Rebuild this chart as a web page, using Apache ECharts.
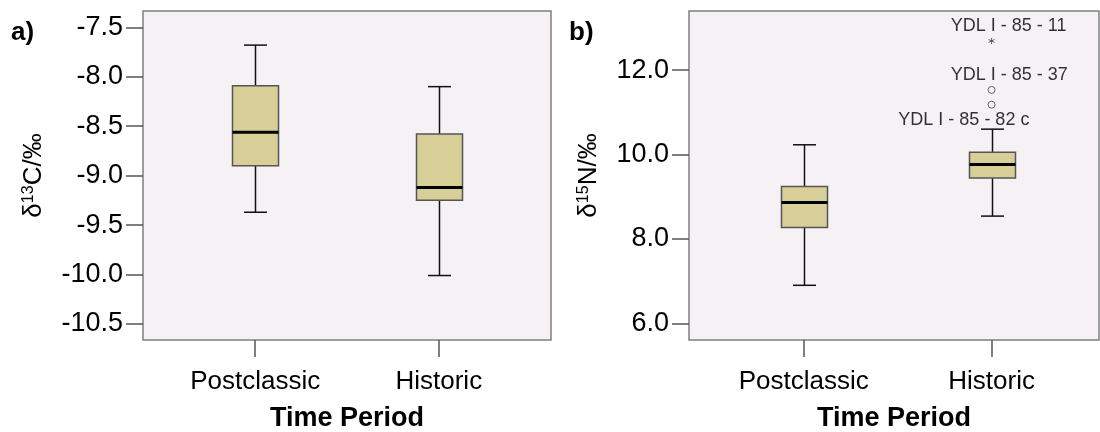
<!DOCTYPE html>
<html><head><meta charset="utf-8">
<script src="https://cdn.jsdelivr.net/npm/echarts@6/dist/echarts.min.js"></script>
<style>html,body{margin:0;padding:0;background:#fff}#c{width:1100px;height:432px}</style>
</head><body><div id="c"></div>
<script>
// ---- data ----
const categories = ['Postclassic', 'Historic'];
// box statistics: [lower whisker, Q1, median, Q3, upper whisker]
const carbonPostclassic = [-9.37, -8.90, -8.56, -8.09, -7.68];
const carbonHistoric = [-10.01, -9.25, -9.12, -8.58, -8.10];
const nitrogenPostclassic = [6.90, 8.27, 8.86, 9.24, 10.23];
const nitrogenHistoric = [8.54, 9.44, 9.76, 10.05, 10.60];
// outliers in panel b (all in the Historic group)
const outlierCategory = [1, 1, 1];
const outlierValues = [12.69, 11.53, 11.18];
const outlierLabels = ['YDL I - 85 - 11', 'YDL I - 85 - 37', 'YDL I - 85 - 82 c'];
const outlierKinds = ['extreme', 'outlier', 'outlier'];
// tick labels
const carbonTicks = [-10.5, -10.0, -9.5, -9.0, -8.5, -8.0, -7.5];
const nitrogenTicks = [6.0, 8.0, 10.0, 12.0];

// ---- styling ----
const FONT = 'Liberation Sans, Arial, sans-serif';
const labelOffsets = [[17, -15], [17.6, -15], [-27.7, 15.5]];
const asteriskPath = 'path://M0,-5L0,5M-4.33,-2.5L4.33,2.5M-4.33,2.5L4.33,-2.5';

function boxRender(params, api) {
  const x = api.value(0);
  const lo = api.coord([x, api.value(1)]);
  const q1 = api.coord([x, api.value(2)]);
  const med = api.coord([x, api.value(3)]);
  const q3 = api.coord([x, api.value(4)]);
  const hi = api.coord([x, api.value(5)]);
  const cx = Math.round(lo[0]) + 0.5;
  const bw = 46, cw = 23;
  const ws = { stroke: '#111', lineWidth: 1.5 };
  return {
    type: 'group',
    children: [
      { type: 'line', shape: { x1: cx, y1: hi[1], x2: cx, y2: q3[1] }, style: ws },
      { type: 'line', shape: { x1: cx, y1: q1[1], x2: cx, y2: lo[1] }, style: ws },
      { type: 'line', shape: { x1: cx - cw / 2, y1: hi[1], x2: cx + cw / 2, y2: hi[1] }, style: ws },
      { type: 'line', shape: { x1: cx - cw / 2, y1: lo[1], x2: cx + cw / 2, y2: lo[1] }, style: ws },
      { type: 'rect', shape: { x: cx - bw / 2, y: q3[1], width: bw, height: q1[1] - q3[1] },
        style: { fill: '#d7cf97', stroke: '#555', lineWidth: 1.5 } },
      { type: 'line', shape: { x1: cx - bw / 2, y1: med[1], x2: cx + bw / 2, y2: med[1] },
        style: { stroke: '#000', lineWidth: 3 } }
    ]
  };
}

function xAxisFor(gi, max) {
  return {
    gridIndex: gi, type: 'value', min: -0.611, max: max,
    name: 'Time Period', nameLocation: 'middle', nameGap: 65,
    nameTextStyle: { fontFamily: FONT, fontSize: 27, fontWeight: 'bold', color: '#000' },
    axisLine: { show: false, onZero: false },
    axisTick: { show: true, length: 17, customValues: [0, 1], lineStyle: { color: '#555', width: 1.5 } },
    axisLabel: { customValues: [0, 1], margin: 29, fontFamily: FONT, fontSize: 26, color: '#000',
      formatter: v => categories[Math.round(v)] },
    splitLine: { show: false }
  };
}
function yAxisFor(gi, min, max, ticks, nameRich, gap) {
  return {
    gridIndex: gi, type: 'value', min: min, max: max,
    name: nameRich, nameLocation: 'middle', nameRotate: 90, nameGap: gap,
    nameTextStyle: { fontFamily: FONT, fontSize: 26, color: '#000',
      rich: { b: { fontFamily: FONT, fontSize: 26, color: '#000' },
              s: { fontFamily: FONT, fontSize: 16, color: '#000', verticalAlign: 'top', lineHeight: 26 } } },
    axisLine: { show: false, onZero: false },
    axisTick: { show: true, length: 17, customValues: ticks, lineStyle: { color: '#555', width: 1.5 } },
    axisLabel: { customValues: ticks, margin: 20, fontFamily: FONT, fontSize: 27, color: '#000',
      formatter: v => Number(v).toFixed(1) },
    splitLine: { show: false }
  };
}

const gridStyle = { show: true, backgroundColor: '#f5f1f5', borderColor: '#808080', borderWidth: 1.5,
  containLabel: false, outerBoundsMode: 'none' };

const option = {
  animation: false,
  backgroundColor: '#fff',
  title: [
    { text: 'a)', left: 6, top: 15, textStyle: { fontFamily: FONT, fontSize: 26, fontWeight: 'bold', color: '#000' } },
    { text: 'b)', left: 564, top: 15, textStyle: { fontFamily: FONT, fontSize: 26, fontWeight: 'bold', color: '#000' } }
  ],
  grid: [
    Object.assign({ left: 143, top: 11, width: 408, height: 329 }, gridStyle),
    Object.assign({ left: 689, top: 11, width: 410, height: 329 }, gridStyle)
  ],
  xAxis: [xAxisFor(0, 1.611), xAxisFor(1, 1.572)],
  yAxis: [
    yAxisFor(0, -10.662, -7.335, carbonTicks, '{b|δ}{s|13}{b|C/‰}', 96),
    yAxisFor(1, 5.604, 13.40, nitrogenTicks, '{b|δ}{s|15}{b|N/‰}', 87)
  ],
  series: [
    { type: 'custom', xAxisIndex: 0, yAxisIndex: 0, renderItem: boxRender,
      encode: { x: 0, y: [1, 2, 3, 4, 5] },
      data: [[0].concat(carbonPostclassic), [1].concat(carbonHistoric)] },
    { type: 'custom', xAxisIndex: 1, yAxisIndex: 1, renderItem: boxRender,
      encode: { x: 0, y: [1, 2, 3, 4, 5] },
      data: [[0].concat(nitrogenPostclassic), [1].concat(nitrogenHistoric)] },
    { type: 'scatter', xAxisIndex: 1, yAxisIndex: 1, z: 5,
      data: outlierValues.map((v, i) => ({
        value: [outlierCategory[i], v],
        name: outlierLabels[i],
        symbol: outlierKinds[i] === 'extreme' ? asteriskPath : 'circle',
        symbolSize: outlierKinds[i] === 'extreme' ? 6 : 7,
        itemStyle: outlierKinds[i] === 'extreme'
          ? { color: 'none', borderColor: '#444', borderWidth: 1 }
          : { color: '#f5f1f5', borderColor: '#444', borderWidth: 1 },
        label: { offset: labelOffsets[i] }
      })),
      label: { show: true, position: 'inside', formatter: '{b}', fontFamily: FONT, fontSize: 18, color: '#000' }
    }
  ]
};
const chart = echarts.init(document.getElementById('c'), null, { renderer: 'canvas' });
chart.setOption(option);
</script>
</body></html>
